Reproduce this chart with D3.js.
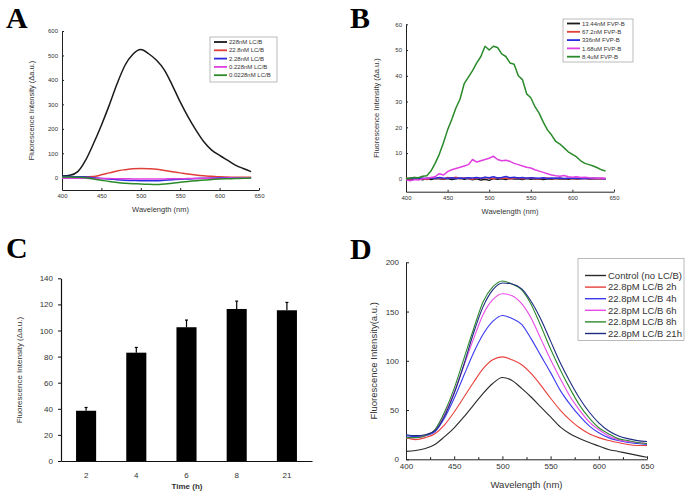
<!DOCTYPE html>
<html>
<head>
<meta charset="utf-8">
<script src="https://cdn.jsdelivr.net/npm/d3@7"></script>
<style>
  body { margin: 0; background: #fff; }
  text { font-family: "Liberation Sans", Arial, sans-serif; fill: #333; }
  .panel-label { font-family: "Liberation Serif", "Times New Roman", serif; font-weight: bold; fill: #000; }
</style>
</head>
<body>
<script>
// ---- data ----
// A: LC/B dilutions, sampled every 10 nm from 400 to 640
const wlA = d3.range(400, 641, 10);
const a228 = [7, 10, 25, 72, 140, 215, 297, 385, 460, 505, 524, 507, 480, 440, 378, 310, 249, 195, 147, 113, 92, 72, 52, 38, 25];
const a22_8 = [3, 3, 3, 4, 5, 12, 20, 28, 33, 37, 38, 37, 35, 30, 25, 20, 15, 11, 8, 6, 4, 3, 2, 2, 2];
const a2_28 = [5, 5, 4, 3, 0, -3, -5, -8, -10, -11, -12, -12, -12, -10, -8, -6, -5, -3, -2, -1, 0, 0, 0, 0, 0];
const a0_228 = [-2, -2, -2, -2, -3, -3, -3, -4, -4, -5, -5, -5, -5, -5, -4, -4, -3, -3, -2, -2, -2, -1, -1, 0, 0];
const a0_0228 = [3, 3, 2, 0, -5, -10, -15, -19, -22, -24, -25, -27, -28, -25, -22, -18, -15, -12, -9, -7, -5, -4, -3, -2, -1];
const namesA = ['228nM LC/B', '22.8nM LC/B', '2.28nM LC/B', '0.228nM LC/B', '0.0228nM LC/B'];

// B: FVP-B dilutions, every 5 nm from 400 to 640
const wlB = d3.range(400, 641, 5);
const b13_44 = [-0.3, -0.5, -0.2, 0, -0.4, 0.2, -0.3, 0.1, 0, -0.2, 0.1, -0.3, 0, 0.2, -0.2, 0.1, -0.4, 0, -0.5, -0.2, -0.6, 0.1, -0.2, 0, -0.3, 0.2, -0.1, 0, -0.3, 0.1, -0.2, 0, -0.1, -0.3, 0, -0.2, 0.1, -0.1, 0, -0.2, 0.1, -0.1, 0, 0.2, -0.1, 0, 0.1, 0, 0];
const b67_2 = [0.3, -0.2, 0.5, 0, 0.2, -0.3, 0.4, 0.1, 0.3, -0.1, 0.5, 0.2, 0.6, 0, 0.3, 0.2, -0.2, 0.4, 0.1, 0.5, 0.2, 0, 0.4, 0.1, 0.3, -0.1, 0.2, 0.4, 0, 0.2, 0.3, 0.1, 0, 0.2, 0.3, 0, 0.1, 0.2, 0, 0.1, 0.2, 0, 0.1, 0.2, 0, 0.1, 0, 0.1, 0];
const b336 = [0, 0.2, -0.1, 0.3, 0.2, 0.1, 0.4, 0.2, 0.5, 0.3, 0.2, 0.4, 0.1, 0.3, 0.2, 0.4, 0.3, 0.5, 0.2, 0.6, 0.4, 0.8, 0.3, 0.5, 0.9, 0.4, 0.6, 0.3, 0.5, 0.2, 0.4, 0.3, 0.2, 0.4, 0.1, 0.3, 0.2, 0.3, 0.1, 0.2, 0.3, 0.2, 0.1, 0.2, 0.1, 0.2, 0.1, 0.1, 0];
const b1_68 = [-0.5, -0.8, -0.3, -0.5, 0, 0.2, 0.5, 0.8, 2, 1.5, 2.8, 3.5, 4, 4.5, 5, 5.5, 7.5, 6.5, 7, 7.5, 8, 8.8, 7.5, 7, 7.2, 6.8, 6, 5.5, 5, 4.5, 4.2, 3.5, 3, 2.5, 2, 1.5, 1.2, 1, 1.3, 0.8, 0.6, 0.8, 0.5, 0.6, 0.4, 0.3, 0.2, 0.3, 0.2];
const b8_4 = [0, 0.3, 0.5, 0.4, 1, 1.2, 3, 6, 9.5, 14, 19, 23, 27.5, 31, 37, 39.5, 42, 45, 47.5, 51.5, 50, 51.5, 51, 48.5, 47.5, 45, 44.5, 40, 38.5, 33, 31.5, 28, 25.5, 22, 19, 17, 14.5, 13.5, 12, 10.5, 9.5, 8.5, 7, 6, 5.5, 5, 4.3, 3.5, 3];
const namesB = ['13.44nM FVP-B', '67.2nM FVP-B', '336nM FVP-B', '1.68uM FVP-B', '8.4uM FVP-B'];

// C: signal vs incubation time
const timesC = ['2', '4', '6', '8', '21'];
const meansC = [38.5, 83, 102.5, 116.5, 115.5];
const errC = [2.5, 4, 5.5, 6, 6];

// D: time course, every 10 nm from 400 to 650
const wlD = d3.range(400, 651, 10);
const dCtrl = [8, 9, 11, 15, 23, 32, 43, 55, 67, 77, 83, 80, 72, 63, 53, 43, 33, 26, 21, 17, 13.5, 10, 8, 6, 4, 2];
const d2h = [22, 20, 22, 26, 35, 48, 63, 78, 92, 101, 104, 101, 96, 87, 75, 62, 50, 40, 32, 26, 22, 19, 17, 15, 14, 14];
const d4h = [24, 23, 24, 28, 42, 62, 85, 108, 127, 140, 146, 143, 137, 122, 105, 88, 70, 56, 44, 34, 27, 22, 19, 17, 16, 15];
const d6h = [22, 22, 24, 30, 46, 68, 95, 122, 147, 162, 168, 166, 158, 143, 122, 101, 82, 64, 50, 38, 30, 24, 20, 18, 17, 16];
const d8h = [22, 22, 24, 30, 48, 72, 102, 132, 160, 175, 181, 178, 172, 157, 135, 112, 91, 72, 55, 42, 32, 26, 21, 19, 17, 16];
const d21h = [25, 24, 25, 29, 44, 67, 96, 128, 155, 172, 179, 178, 173, 160, 142, 120, 98, 79, 62, 48, 37, 29, 24, 21, 19, 18];
const namesD = ['Control (no LC/B)', '22.8pM LC/B 2h', '22.8pM LC/B 4h', '22.8pM LC/B 6h', '22.8pM LC/B 8h', '22.8pM LC/B 21h'];

const svg = d3.select('body').append('svg')
    .attr('width', 689)
    .attr('height', 496);

function panelLabel(txt, x, y) {
    svg.append('text').attr('class', 'panel-label')
        .attr('x', x).attr('y', y)
        .style('font-size', '30px')
        .text(txt);
}

// Origin-style spectrum panel: left + bottom axes, inward ticks, boxed legend
function spectrumPanel(cfg) {
    const x = d3.scaleLinear().domain([400, 650]).range(cfg.xr);
    const y = d3.scaleLinear().domain(cfg.yDomain).range(cfg.yr);
    const g = svg.append('g');
    const fs = cfg.fontSize;

    const xAxis = g.append('g')
        .attr('transform', `translate(0,${cfg.yr[0]})`)
        .call(d3.axisBottom(x).tickValues([400, 450, 500, 550, 600, 650])
            .tickSizeInner(-cfg.tick).tickSizeOuter(0).tickPadding(cfg.pad));
    if (cfg.minor) {
        g.append('g')
            .attr('transform', `translate(0,${cfg.yr[0]})`)
            .call(d3.axisBottom(x).tickValues([425, 475, 525, 575, 625])
                .tickSizeInner(-cfg.tick + 1).tickSizeOuter(0).tickFormat(''))
            .select('.domain').remove();
    }
    const yAxis = g.append('g')
        .attr('transform', `translate(${cfg.xr[0]},0)`)
        .call(d3.axisLeft(y).tickValues(cfg.yTicks)
            .tickSizeInner(-cfg.tick).tickSizeOuter(0).tickPadding(cfg.ypad || cfg.pad));
    [xAxis, yAxis].forEach(a => {
        a.selectAll('text').style('font-size', fs + 'px').style('font-family', null);
        a.select('.domain').attr('stroke', '#222');
        a.selectAll('line').attr('stroke', '#222');
    });

    const line = d3.line()
        .x((d, i) => x(cfg.wl[i]))
        .y(d => y(d))
        .curve(cfg.smooth ? d3.curveMonotoneX : d3.curveLinear);
    cfg.series.forEach(s => {
        g.append('path')
            .attr('d', line(s.values))
            .attr('fill', 'none')
            .attr('stroke', s.color)
            .attr('stroke-width', cfg.lw)
            .attr('stroke-linejoin', 'round');
    });

    // axis titles
    g.append('text')
        .attr('x', d3.mean(cfg.xr)).attr('y', cfg.xTitleY)
        .attr('text-anchor', 'middle')
        .style('font-size', cfg.titleSize + 'px')
        .text('Wavelength (nm)');
    g.append('text')
        .attr('transform', `translate(${cfg.yTitleX},${d3.mean(cfg.yr)}) rotate(-90)`)
        .attr('text-anchor', 'middle')
        .style('font-size', cfg.titleSize + 'px')
        .text(cfg.yTitle);

    // legend
    const L = cfg.legend;
    const lg = g.append('g').attr('transform', `translate(${L.x},${L.y})`);
    lg.append('rect')
        .attr('width', L.w).attr('height', L.h)
        .attr('fill', '#fff').attr('stroke', '#aaa').attr('stroke-width', 0.8);
    cfg.series.forEach((s, i) => {
        const yy = L.top + i * L.dy;
        lg.append('line')
            .attr('x1', L.lx).attr('x2', L.lx + L.len)
            .attr('y1', yy).attr('y2', yy)
            .attr('stroke', s.color).attr('stroke-width', cfg.lw + 0.3);
        lg.append('text')
            .attr('x', L.lx + L.len + 2).attr('y', yy)
            .attr('dy', '0.35em')
            .style('font-size', L.fs + 'px')
            .text(s.name);
    });
}

const colorsA = ['#1a1a1a', '#e0403a', '#2a2ae0', '#e040e0', '#2a8a2a'];

// ---- A ----
spectrumPanel({
    xr: [62, 259], yr: [190, 31], yDomain: [-50, 600],
    yTicks: [0, 100, 200, 300, 400, 500, 600],
    wl: wlA, lw: 1.5, tick: 2, pad: 4, fontSize: 6, titleSize: 7.5, smooth: true,
    xTitleY: 212, yTitleX: 34,
    yTitle: 'Fluorescence Intensity (Δa.u.)',
    series: [a228, a22_8, a2_28, a0_228, a0_0228].map((v, i) => ({ values: v, name: namesA[i], color: colorsA[i] })),
    legend: { x: 210, y: 37, w: 67, h: 45, top: 5, dy: 8.3, lx: 4, len: 13, fs: 6 }
});
panelLabel('A', 6, 28);

// ---- B ----
spectrumPanel({
    xr: [406, 614], yr: [191.7, 24.3], yDomain: [-5, 60],
    yTicks: [0, 10, 20, 30, 40, 50, 60],
    wl: wlB, lw: 1.5, tick: 2, pad: 4, fontSize: 6, titleSize: 7.5,
    xTitleY: 214, yTitleX: 379,
    yTitle: 'Fluorescence Intensity (Δa.u.)',
    series: [b13_44, b67_2, b336, b1_68, b8_4].map((v, i) => ({ values: v, name: namesB[i], color: colorsA[i] })),
    legend: { x: 563, y: 19, w: 70, h: 43, top: 4.5, dy: 8.3, lx: 4, len: 13, fs: 6 }
});
panelLabel('B', 350, 28);

// ---- C ----
{
    const x = d3.scaleBand().domain(timesC).range([61, 312]).paddingInner(0.6).paddingOuter(0.3);
    const y = d3.scaleLinear().domain([0, 140]).range([461, 278.3]);
    const g = svg.append('g');

    const yAxis = g.append('g')
        .attr('transform', 'translate(61,0)')
        .call(d3.axisLeft(y).tickValues(d3.range(0, 141, 20)).tickSizeInner(3).tickSizeOuter(0).tickPadding(5));
    const xAxis = g.append('g')
        .attr('transform', 'translate(0,461)')
        .call(d3.axisBottom(x).tickSize(0).tickPadding(11));
    [xAxis, yAxis].forEach(a => {
        a.selectAll('text').style('font-size', '8px').style('font-family', null);
        a.select('.domain').attr('stroke', '#111').attr('stroke-width', 1.2);
        a.selectAll('line').attr('stroke', '#111');
    });

    g.selectAll('.bar')
        .data(timesC)
        .enter()
        .append('rect')
        .attr('class', 'bar')
        .attr('x', d => x(d))
        .attr('width', x.bandwidth())
        .attr('y', (d, i) => y(meansC[i]))
        .attr('height', (d, i) => y(0) - y(meansC[i]))
        .attr('fill', '#000');

    // upper error bars only
    timesC.forEach((d, i) => {
        const cx = x(d) + x.bandwidth() / 2;
        g.append('line')
            .attr('x1', cx).attr('x2', cx)
            .attr('y1', y(meansC[i])).attr('y2', y(meansC[i] + errC[i]))
            .attr('stroke', '#000').attr('stroke-width', 1.2);
        g.append('line')
            .attr('x1', cx - 1.5).attr('x2', cx + 1.5)
            .attr('y1', y(meansC[i] + errC[i])).attr('y2', y(meansC[i] + errC[i]))
            .attr('stroke', '#000').attr('stroke-width', 1.2);
    });

    g.append('text')
        .attr('x', 187).attr('y', 489)
        .attr('text-anchor', 'middle')
        .style('font-size', '8px').style('font-weight', 'bold')
        .text('Time (h)');
    g.append('text')
        .attr('transform', 'translate(22,370) rotate(-90)')
        .attr('text-anchor', 'middle')
        .style('font-size', '8px')
        .text('Fluorescence Intensity (Δa.u.)');
}
panelLabel('C', 6, 258);

// ---- D ----
const colorsD = ['#2a2a2a', '#e8403a', '#3a3af0', '#e84ae8', '#2e8a2e', '#1e2a80'];
spectrumPanel({
    xr: [406, 647], yr: [459.3, 262.3], yDomain: [0, 200],
    yTicks: [0, 50, 100, 150, 200],
    wl: wlD, lw: 1.1, tick: 3, pad: 4, ypad: 7, fontSize: 8, titleSize: 9.5, minor: true, smooth: true,
    xTitleY: 488, yTitleX: 377,
    yTitle: 'Fluorescence Intensity(a.u.)',
    series: [dCtrl, d2h, d4h, d6h, d8h, d21h].map((v, i) => ({ values: v, name: namesD[i], color: colorsD[i] })),
    legend: { x: 578, y: 258.5, w: 106, h: 82, top: 17, dy: 11.6, lx: 7, len: 21, fs: 9.5 }
});
panelLabel('D', 350, 259);
</script>
</body>
</html>
